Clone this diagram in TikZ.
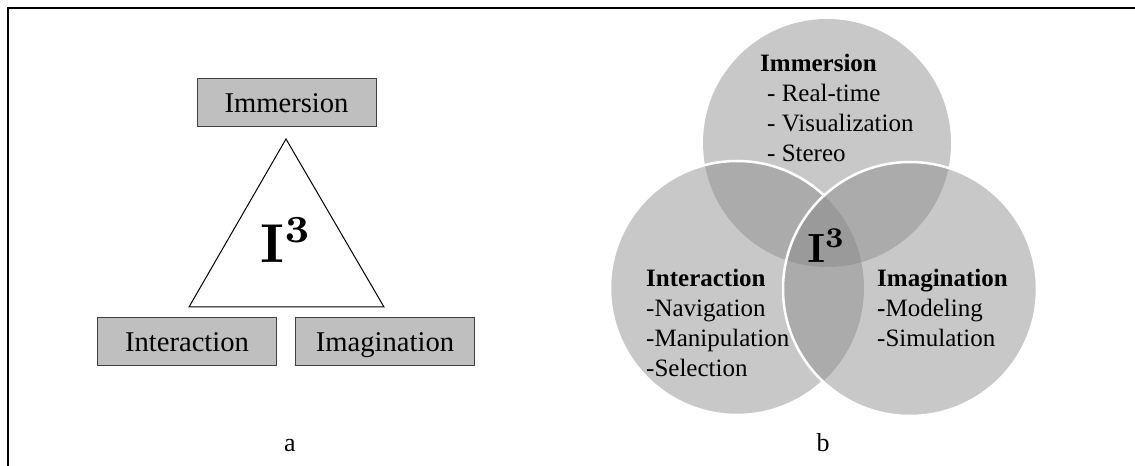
\documentclass[tikz,border=0pt]{standalone}
\usepackage{graphicx}
\usepackage[no-math]{fontspec}
\setmainfont{Liberation Serif}
\usetikzlibrary{calc}

\begin{document}
\begin{tikzpicture}[x=1bp,y=-1bp,
  box/.style={draw=black!75,fill=black!25,line width=1bp,minimum width=179bp,minimum height=48bp,
    inner sep=0pt,text height=20bp,text depth=0bp,font=\fontsize{28.6bp}{34bp}\selectfont},
  venn/.style={fill={rgb,255:red,134;green,134;blue,134},fill opacity=0.45},
  rim/.style={draw=white,line width=2.5bp},
  lab/.style={anchor=north west,inner sep=0pt,align=left,font=\fontsize{25bp}{30bp}\selectfont},
  sublabel/.style={font=\fontsize{26bp}{30bp}\selectfont}]
\useasboundingbox (0,0) rectangle (1135,466);
\draw[line width=2bp] (8,466)--(8,8)--(1135,8);
% a
\node[box] (imm) at (286.5,103) {Immersion};
\node[box] (int) at (187,342) {Interaction};
\node[box] (ima) at (385,342) {Imagination};
\coordinate (T) at (286,139);
\coordinate (L) at (189,307);
\coordinate (R) at (384,307);
\draw[line width=1bp] (T)--(L)--(R)--cycle;
\node[inner sep=0pt] (ia) at (286.5,240) {\scalebox{5.5}{$\mathbf{I}^{\mathbf{3}}$}};
\node[sublabel] (a) at (290,446) {a};
% b
\coordinate (ctop) at (827,143);
\coordinate (cleft) at (737,288);
\coordinate (cright) at (910,289);
\fill[venn] (ctop) circle (124);
\fill[venn] (cleft) circle (127);
\fill[venn] (cright) circle (127);
\begin{scope}[even odd rule]
\clip (0,0) rectangle (1135,466) (cright) circle (127);
\draw[rim] (cleft) circle (127);
\end{scope}
\draw[rim] (cright) circle (127);
\node[lab] (timmb) at (760,54) {\textbf{Immersion}\\\hspace*{7bp}- Real-time\\\hspace*{7bp}- Visualization\\\hspace*{7bp}- Stereo};
\node[lab] (tintb) at (646,269) {\textbf{Interaction}\\-Navigation\\-Manipulation\\-Selection};
\node[lab] (timab) at (877,269) {\textbf{Imagination}\\\textbf{-}Modeling\\-Simulation};
\node[inner sep=0pt] (ib) at (826.5,246) {\scalebox{4.1}{$\mathbf{I}^{\mathbf{3}}$}};
\node[sublabel] (b) at (823,443) {b};
\end{tikzpicture}
\end{document}
